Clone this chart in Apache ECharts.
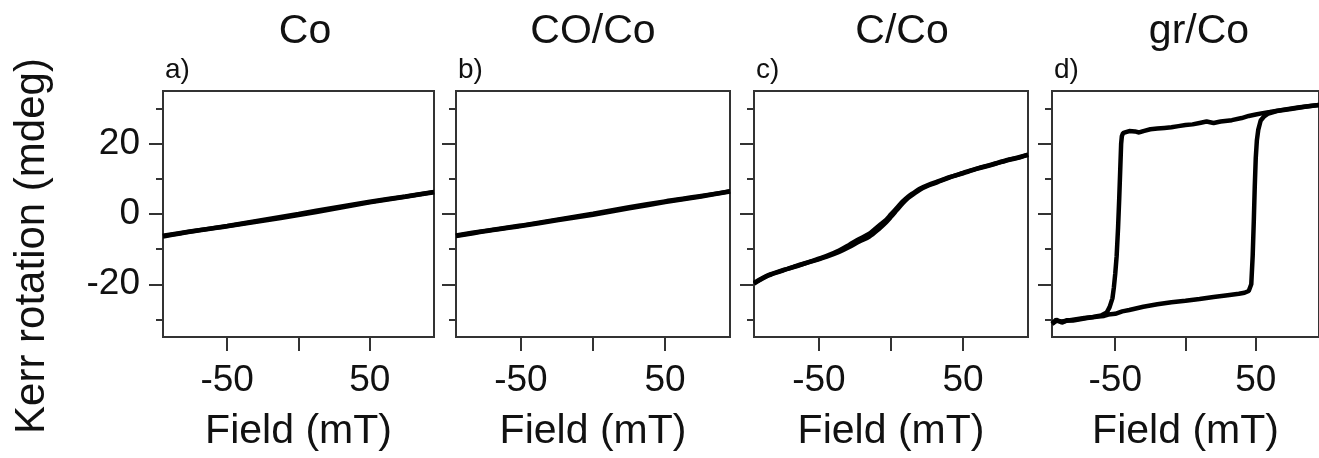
<!DOCTYPE html>
<html>
<head>
<meta charset="utf-8">
<title>Kerr rotation loops</title>
<script src="https://cdn.jsdelivr.net/npm/echarts@6/dist/echarts.min.js"></script>
<style>
  html, body { margin: 0; padding: 0; background: #fff; }
  #chart { width: 1319px; height: 458px; }
</style>
</head>
<body>
<div id="chart"></div>
<script>
// Panel captions
const panelTitles = ['Co', 'CO/Co', 'C/Co', 'gr/Co'];
const panelLetters = ['a)', 'b)', 'c)', 'd)'];
const xAxisTitle = 'Field (mT)';
const yAxisTitle = 'Kerr rotation (mdeg)';

// Tick values
const fieldTicks = [-50, 0, 50];
const fieldLabels = [-50, 50];
const kerrMajor = [-20, 0, 20];
const kerrMinor = [-30, -10, 10, 30];

// Co: field sweeps (mT) and Kerr rotation (mdeg)
const coFieldUp = [-95, -75, -50, -25, 0, 25, 50, 75, 95];
const coKerrUp = [-6.4, -5.0, -3.5, -1.9, -0.3, 1.5, 3.3, 4.9, 6.2];
const coFieldDown = [95, 75, 50, 25, 0, -25, -50, -75, -95];
const coKerrDown = [6.3, 5.0, 3.5, 1.8, 0.0, -1.7, -3.4, -4.9, -6.2];

// CO/Co
const coCoFieldUp = [-95, -75, -50, -25, 0, 25, 50, 75, 95];
const coCoKerrUp = [-6.3, -4.9, -3.4, -1.8, -0.2, 1.6, 3.4, 5.0, 6.4];
const coCoFieldDown = [95, 75, 50, 25, 0, -25, -50, -75, -95];
const coCoKerrDown = [6.5, 5.1, 3.6, 1.9, 0.1, -1.6, -3.3, -4.8, -6.1];

// C/Co
const cCoFieldUp = [-95, -85, -75, -65, -55, -45, -36, -29, -22, -15, -8, -4, 0, 4, 8, 12, 16, 20, 26, 32, 40, 50, 60, 70, 80, 90, 95];
const cCoKerrUp = [-19.8, -17.5, -16.1, -14.8, -13.5, -12.2, -10.8, -9.4, -7.8, -6.4, -4.1, -2.6, -0.8, 1.1, 3.0, 4.6, 5.8, 6.9, 8.1, 9.0, 10.3, 11.6, 12.9, 14.0, 15.2, 16.2, 16.8];
const cCoFieldDown = [95, 90, 80, 70, 60, 50, 40, 32, 26, 20, 16, 12, 8, 4, 0, -4, -8, -15, -22, -29, -36, -45, -55, -65, -75, -85, -95];
const cCoKerrDown = [16.9, 16.3, 15.3, 14.1, 13.0, 11.7, 10.4, 9.2, 8.3, 7.2, 6.1, 5.0, 3.5, 1.7, -0.1, -1.9, -3.2, -5.6, -7.1, -8.8, -10.4, -12.0, -13.4, -14.7, -16.0, -17.4, -19.6];

// gr/Co hysteresis loop
const grCoFieldUp = [-95, -92, -88, -84, -80, -70, -62, -58, -55, -50, -45, -40, -30, -20, -10, 0, 10, 20, 30, 38, 42, 45, 46.8, 47.8, 48.6, 49.3, 50.0, 50.8, 51.8, 53.5, 56, 59, 65, 75, 85, 95];
const grCoKerrUp = [-31.2, -30.1, -30.9, -30.2, -30.3, -29.6, -29.2, -29.0, -28.6, -28.4, -27.7, -27.3, -26.4, -25.7, -25.1, -24.7, -24.2, -23.6, -23.1, -22.7, -22.4, -21.9, -20.0, -12.0, -2.0, 8.0, 16.0, 21.0, 24.0, 26.6, 27.8, 28.6, 29.3, 29.9, 30.5, 31.0];
const grCoFieldDown = [95, 90, 80, 70, 60, 55, 50, 45, 40, 33, 25, 20, 15, 10, 5, 0, -5, -10, -15, -20, -25, -30, -33, -36, -40, -43, -44.5, -45.3, -45.8, -46.5, -47.2, -48, -49, -50, -51, -52, -54, -56, -60, -66, -72, -80, -88, -92, -95];
const grCoKerrDown = [31.0, 30.8, 30.3, 29.7, 29.0, 28.7, 28.3, 27.9, 27.3, 26.7, 26.3, 25.9, 26.3, 25.9, 25.5, 25.3, 25.0, 24.7, 24.5, 24.3, 24.1, 23.6, 23.2, 23.5, 23.6, 23.2, 23.0, 22.1, 20.0, 12.0, 4.0, -4.0, -12.0, -17.0, -21.0, -24.0, -26.5, -28.0, -28.9, -29.3, -29.6, -30.1, -30.6, -30.4, -31.3];

const panels = [
  [[coFieldUp, coKerrUp], [coFieldDown, coKerrDown]],
  [[coCoFieldUp, coCoKerrUp], [coCoFieldDown, coCoKerrDown]],
  [[cCoFieldUp, cCoKerrUp], [cCoFieldDown, cCoKerrDown]],
  [[grCoFieldUp, grCoKerrUp], [grCoFieldDown, grCoKerrDown]]
];

// Layout
const gridLeft = [163, 456, 754, 1052];
const gridWidth = [271, 274, 274, 274];
const titleCenter = [305, 593, 902, 1199];
const gridTop = 91;
const gridHeight = 246;
const font = '"Liberation Sans", Arial, Helvetica, sans-serif';
const ink = '#111';
const frame = '#333';

const toPairs = (xs, ys) => xs.map((x, i) => [x, ys[i]]);

const grid = [], xAxis = [], yAxis = [], series = [], graphic = [];

panels.forEach((sweeps, p) => {
  grid.push({
    left: gridLeft[p], top: gridTop, width: gridWidth[p], height: gridHeight,
    show: true, borderColor: frame, borderWidth: 2, backgroundColor: 'transparent'
  });
  xAxis.push({
    gridIndex: p, type: 'value', min: -95, max: 95, position: 'bottom',
    splitLine: { show: false },
    axisLine: { show: false, onZero: false },
    axisTick: { show: true, length: 14, customValues: fieldTicks, lineStyle: { color: frame, width: 2 } },
    axisLabel: { show: true, customValues: fieldLabels, margin: 25, fontSize: 37, fontFamily: font, color: ink },
    name: xAxisTitle, nameLocation: 'middle', nameGap: 74,
    nameTextStyle: { fontSize: 41, fontFamily: font, color: ink }
  });
  // major ticks (with labels on the first panel)
  yAxis.push({
    gridIndex: p, type: 'value', min: -35, max: 35, position: 'left', offset: 0,
    splitLine: { show: false },
    axisLine: { show: false, onZero: false },
    axisTick: { show: true, length: 14, customValues: kerrMajor, lineStyle: { color: frame, width: 2 } },
    axisLabel: { show: p === 0, customValues: kerrMajor, margin: 23, fontSize: 37, fontFamily: font, color: ink }
  });
  // minor ticks
  yAxis.push({
    gridIndex: p, type: 'value', min: -35, max: 35, position: 'left', offset: 0,
    splitLine: { show: false },
    axisLine: { show: false, onZero: false },
    axisTick: { show: true, length: 7, customValues: kerrMinor, lineStyle: { color: frame, width: 2 } },
    axisLabel: { show: false }
  });
  sweeps.forEach(([xs, ys]) => {
    series.push({
      type: 'line', xAxisIndex: p, yAxisIndex: 2 * p,
      data: toPairs(xs, ys), showSymbol: false, symbol: 'none',
      lineStyle: { color: '#000', width: 4.5 }, smooth: p < 3 ? 0.3 : false,
      animation: false, silent: true
    });
  });
  graphic.push({
    type: 'text', x: titleCenter[p], y: 32,
    style: { text: panelTitles[p], font: '41px ' + font, fill: ink, align: 'center', verticalAlign: 'middle' }
  });
  graphic.push({
    type: 'text', x: gridLeft[p] + 2, y: 70,
    style: { text: panelLetters[p], font: '28px ' + font, fill: ink, align: 'left', verticalAlign: 'middle' }
  });
});

graphic.push({
  type: 'text', x: 32, y: 246, rotation: Math.PI / 2,
  style: { text: yAxisTitle, font: '42px ' + font, fill: ink, align: 'center', verticalAlign: 'middle' }
});

const chart = echarts.init(document.getElementById('chart'), null, { renderer: 'canvas' });
chart.setOption({ animation: false, backgroundColor: '#fff', grid, xAxis, yAxis, series, graphic });
</script>
</body>
</html>
